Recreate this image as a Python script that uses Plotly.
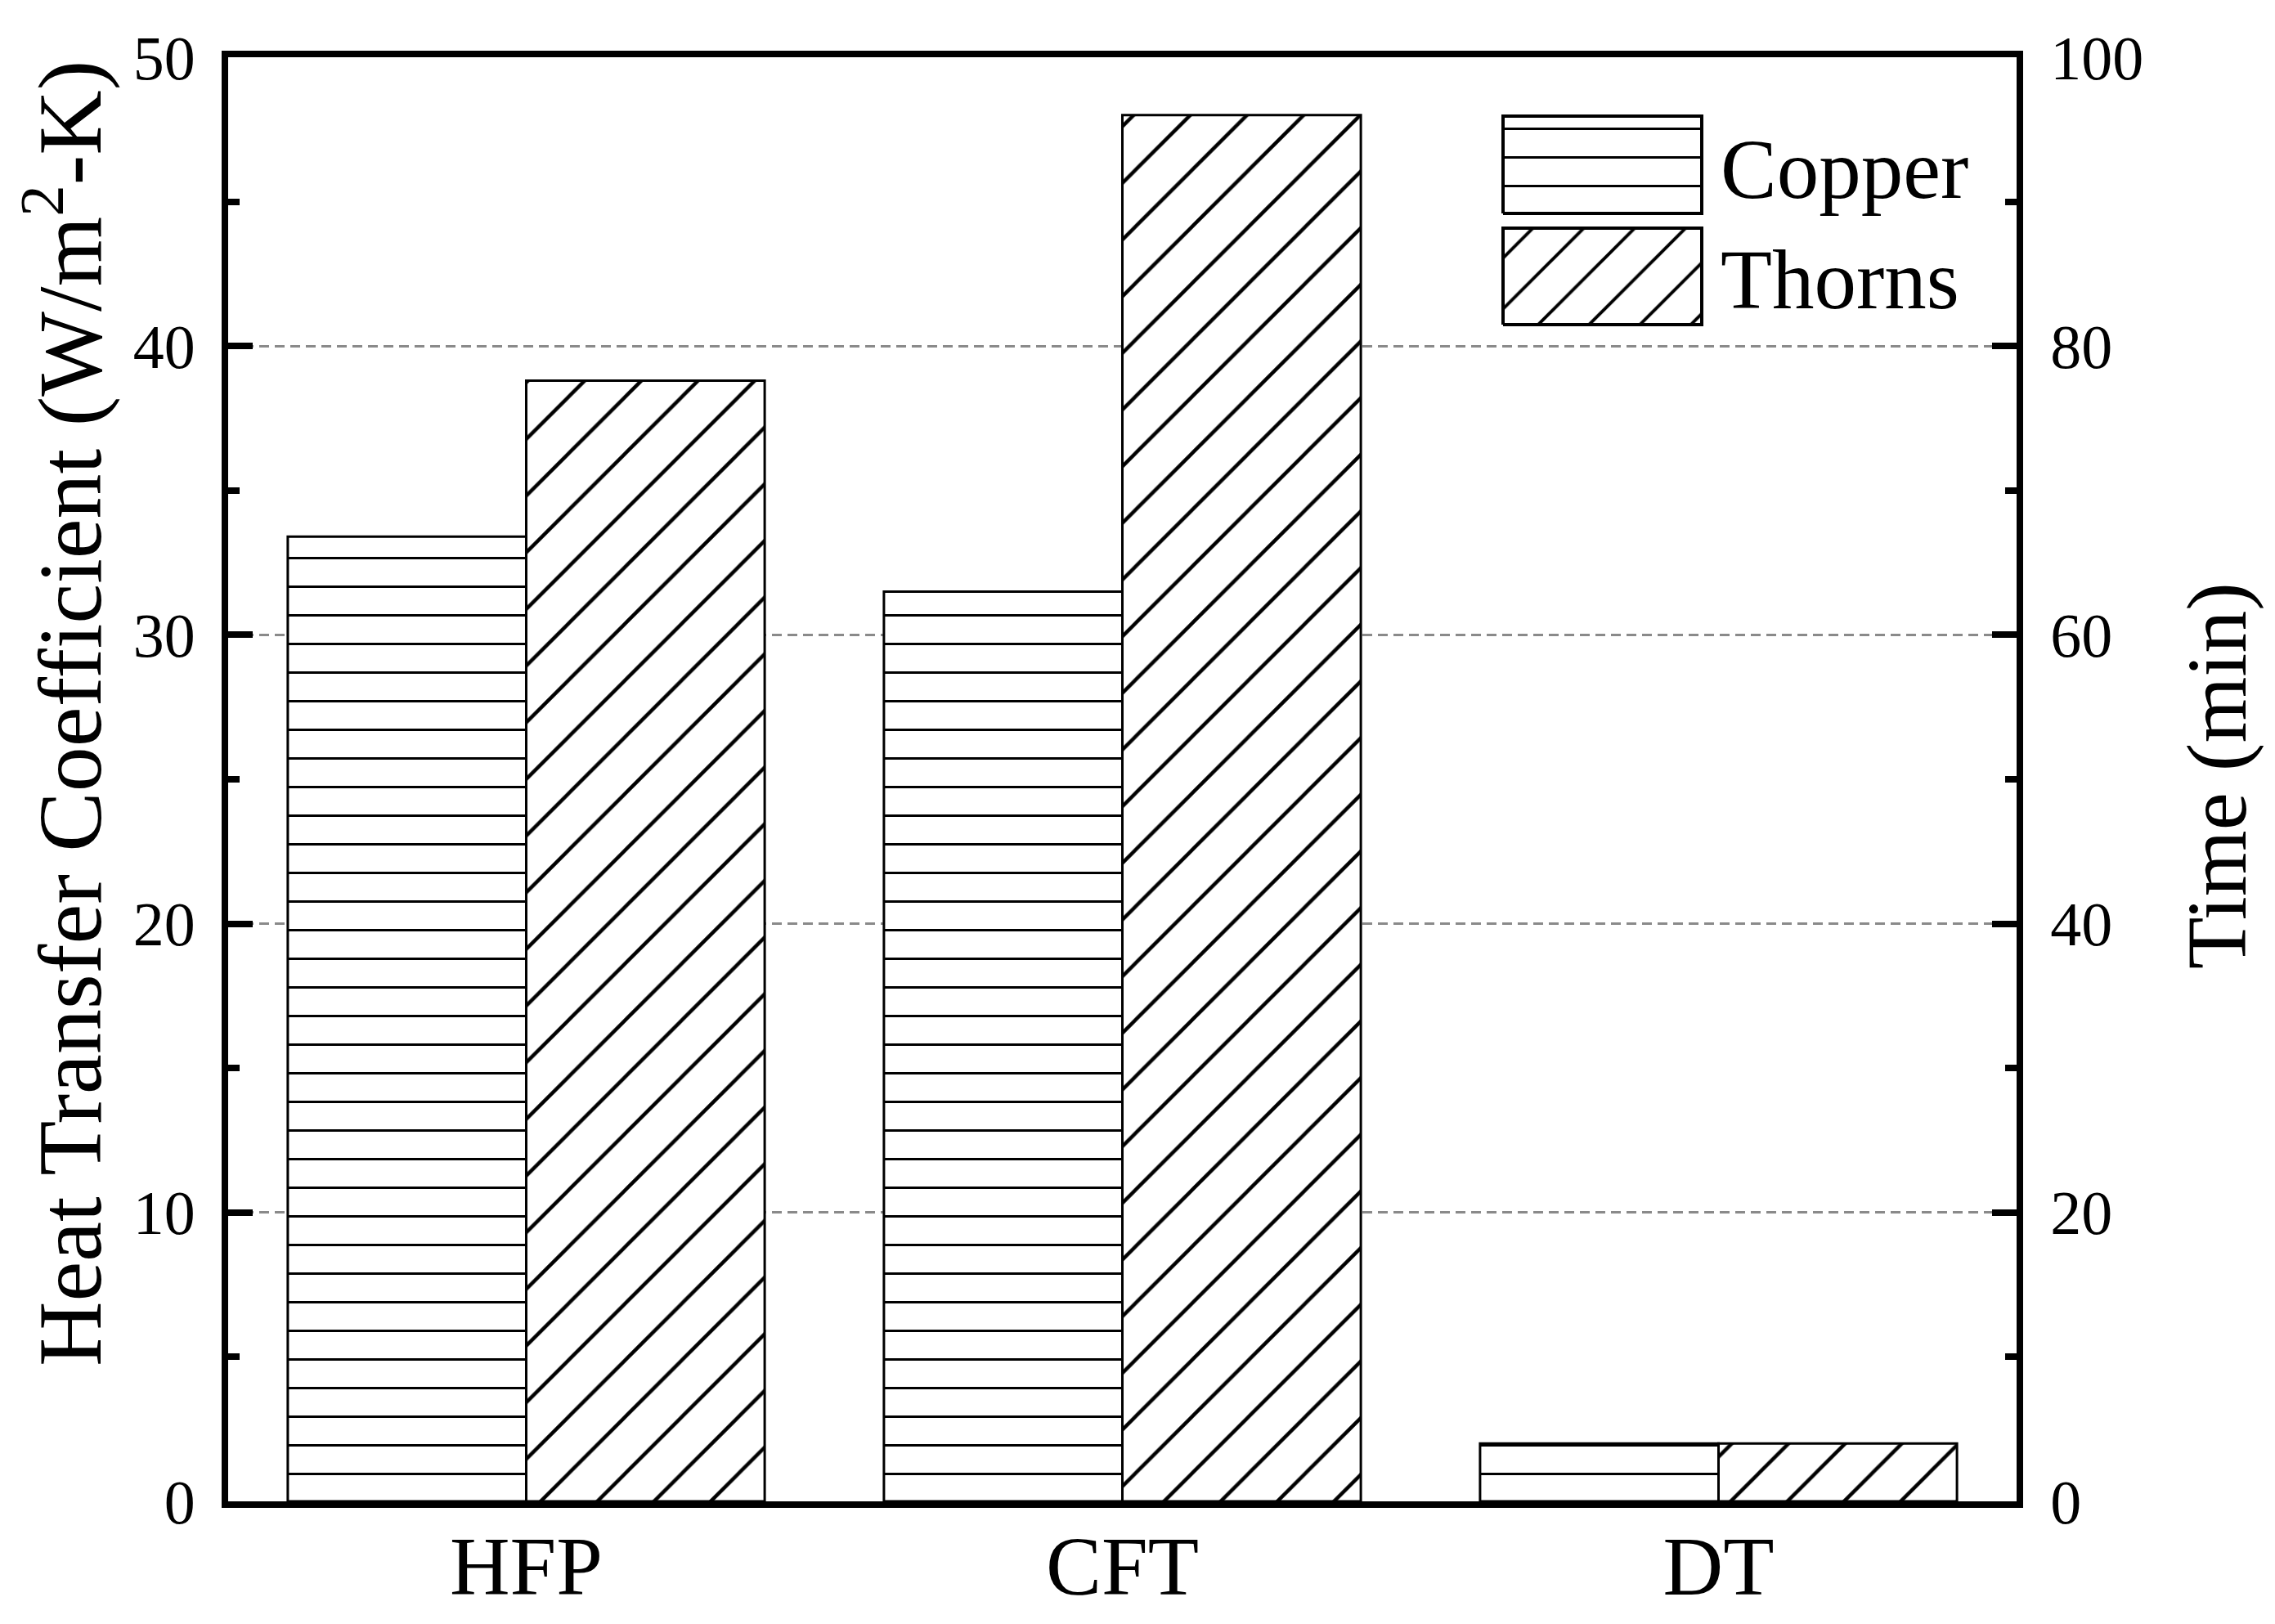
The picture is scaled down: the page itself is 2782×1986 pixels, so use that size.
import plotly.graph_objects as go

# ---------------- data ----------------
categories = ["HFP", "CFT", "DT"]
copper = [33.4, 31.5, 2.0]
thorns = [38.8, 48.0, 2.0]
series_names = ["Copper", "Thorns"]
left_tickvals = [0, 10, 20, 30, 40, 50]
right_tickvals = [0, 20, 40, 60, 80, 100]

# ---------------- style ----------------
FONT = "Liberation Serif"
W, H = 2782, 1986
L, R, T, B = 271, 2458, 62, 1828  # plot area pixel box
OFF = 8  # page body offset
pw, ph = R - L, B - T

def px_x(x):
    return (x - OFF - L) / pw

def px_y(y):
    return (B - (y - OFF)) / ph

hpat = dict(shape="-", size=35, solidity=0.09, fgcolor="black", bgcolor="white", fillmode="replace")
dpat = dict(shape="/", size=49, solidity=0.09, fgcolor="black", bgcolor="white", fillmode="replace")
pats = [hpat, dpat]

fig = go.Figure()
for name, vals, pat in zip(series_names, [copper, thorns], pats):
    fig.add_trace(go.Bar(
        x=categories, y=vals, name=name,
        marker=dict(color="white", line=dict(color="black", width=3), pattern=pat),
        showlegend=False, hoverinfo="skip",
    ))

# empty trace to attach right axis
fig.add_trace(go.Scatter(x=[], y=[], yaxis="y2", showlegend=False))

# custom legend swatches (layout geometry, in plot-area fractions)
leg_x0, leg_x1 = px_x(1838), px_x(2081)
leg_boxes = [(px_y(261), px_y(142)), (px_y(397), px_y(279))]
leg_text_y = [px_y(207), px_y(342)]
for name, pat, (y0, y1), ty in zip(series_names, pats, leg_boxes, leg_text_y):
    p = dict(pat)
    if p["shape"] == "/":
        p["size"] = 44
    fig.add_trace(go.Scatter(
        x=[leg_x0, leg_x1, leg_x1, leg_x0, leg_x0],
        y=[y0, y0, y1, y1, y0],
        mode="lines", fill="toself", fillcolor="white", fillpattern=p,
        line=dict(color="black", width=4),
        xaxis="x3", yaxis="y3", showlegend=False, hoverinfo="skip",
    ))
    fig.add_annotation(text=name, x=px_x(2102), y=ty, xref="paper", yref="paper",
                       xanchor="left", yanchor="middle", showarrow=False,
                       font=dict(family=FONT, size=103, color="black"))

# axis titles
fig.add_annotation(text="Heat Transfer Coefficient (W/m<sup>2</sup>-K)", textangle=-90,
                   x=px_x(78), y=px_y(873), xref="paper", yref="paper",
                   xanchor="center", yanchor="middle", showarrow=False,
                   font=dict(family=FONT, size=110, color="black"))
fig.add_annotation(text="Time (min)", textangle=-90,
                   x=px_x(2711), y=px_y(949), xref="paper", yref="paper",
                   xanchor="center", yanchor="middle", showarrow=False,
                   font=dict(family=FONT, size=104, color="black"))

axis_line = dict(showline=True, linecolor="black", linewidth=8, automargin=False)
fig.update_layout(
    template="none",
    width=W, height=H,
    margin=dict(l=L, r=W - R, t=T, b=H - B, pad=0),
    paper_bgcolor="white", plot_bgcolor="white",
    barmode="group", bargap=0.2, bargroupgap=0.0,
    font=dict(family=FONT, color="black"),
    xaxis=dict(
        **axis_line, mirror=True, range=[-0.5, 2.5], ticks="", ticklen=0, showgrid=False,
        tickfont=dict(family=FONT, size=102), ticklabelstandoff=-16,
    ),
    yaxis=dict(
        **axis_line, range=[0, 50], tickvals=left_tickvals, ticks="inside",
        ticklen=30, tickwidth=8, tickcolor="black",
        minor=dict(ticks="inside", ticklen=14, tickwidth=8, tickcolor="black", dtick=5, tick0=0, showgrid=False),
        showgrid=True, gridcolor="#8a8a8a", gridwidth=2.5, griddash="12px,7px",
        zeroline=False, tickfont=dict(family=FONT, size=76), ticklabelstandoff=17,
    ),
    yaxis2=dict(
        **axis_line, overlaying="y", side="right", range=[0, 100], tickvals=right_tickvals,
        ticks="inside", ticklen=30, tickwidth=8, tickcolor="black",
        minor=dict(ticks="inside", ticklen=14, tickwidth=8, tickcolor="black", dtick=10, tick0=0, showgrid=False),
        showgrid=False, zeroline=False, tickfont=dict(family=FONT, size=76), ticklabelstandoff=18,
    ),
    xaxis3=dict(overlaying="x", anchor="y3", range=[0, 1], visible=False, fixedrange=True),
    yaxis3=dict(overlaying="y", anchor="x3", range=[0, 1], visible=False, fixedrange=True),
)

fig.write_html("out.html")
